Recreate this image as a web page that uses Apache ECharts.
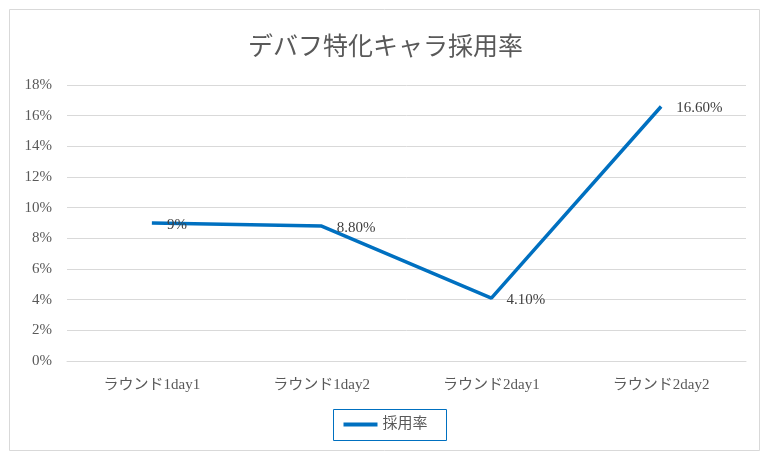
<!DOCTYPE html>
<html><head><meta charset="utf-8">
<script src="https://cdn.jsdelivr.net/npm/echarts@6/dist/echarts.min.js"></script>
<style>html,body{margin:0;padding:0;background:#fff}#c{width:771px;height:459px}</style>
</head><body><div id="c"></div>
<script>
const categories = ['ラウンド1day1','ラウンド1day2','ラウンド2day1','ラウンド2day2'];
const values = [9, 8.8, 4.1, 16.6];
const valueLabels = ['9%','8.80%','4.10%','16.60%'];
const seriesName = '採用率';
const titleText = 'デバフ特化キャラ採用率';
const FONT = '"Liberation Serif","DejaVu Serif","Noto Sans CJK JP",serif';
const chart = echarts.init(document.getElementById('c'));
chart.setOption({
  backgroundColor:'#fff',
  animation:false,
  textStyle:{fontFamily:FONT},
  graphic:[{type:'rect',shape:{x:9.5,y:9.5,width:750,height:441},style:{fill:'none',stroke:'#d9d9d9',lineWidth:1}},
           {type:'rect',shape:{x:333.5,y:409.5,width:113,height:31},style:{fill:'none',stroke:'#0070C0',lineWidth:1}}],
  title:{text:titleText,left:'center',top:31,textStyle:{fontFamily:FONT,fontSize:25,fontWeight:'normal',color:'#595959'}},
  grid:{left:67,right:25,top:85,bottom:98},
  legend:{bottom:22,left:'center',itemWidth:34,itemHeight:4,icon:'rect',itemGap:10,
    textStyle:{fontFamily:FONT,fontSize:15,color:'#595959'},data:[seriesName]},
  xAxis:{type:'category',data:categories,boundaryGap:true,
    axisLine:{show:true,lineStyle:{color:'#d9d9d9'}},axisTick:{show:false},
    axisLabel:{margin:17,fontFamily:FONT,fontSize:15,color:'#595959'}},
  yAxis:{type:'value',min:0,max:18,interval:2,
    axisLine:{show:false},axisTick:{show:false},
    splitLine:{lineStyle:{color:'#d9d9d9'}},
    axisLabel:{margin:15,fontFamily:FONT,fontSize:15,color:'#595959',formatter:v=>v+'%'}},
  series:[{name:seriesName,type:'line',data:values,symbol:'circle',symbolSize:0.1,showSymbol:true,
    lineStyle:{color:'#0070C0',width:3.5},itemStyle:{color:'#0070C0'},
    label:{show:true,position:'right',distance:15,offset:[0,2],fontFamily:FONT,fontSize:15,color:'#404040',
      formatter:p=>valueLabels[p.dataIndex]}}]
});
</script></body></html>
